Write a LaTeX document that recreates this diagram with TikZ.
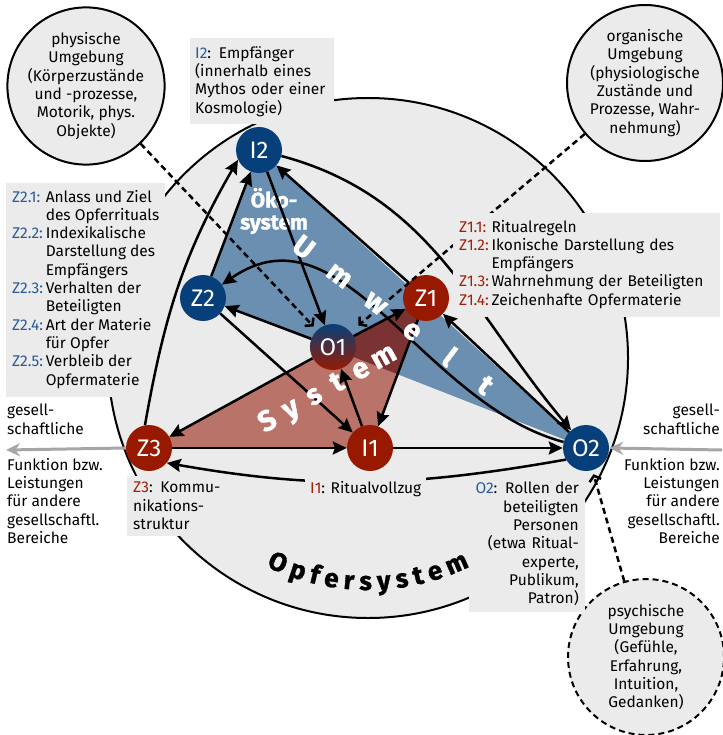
\documentclass[tikz,border=0pt]{standalone}
\usepackage{fontspec}
\setmainfont{Fira Sans}
\newfontfamily\heavyfont{Fira Sans Bold}[FakeBold=1.3]
\usetikzlibrary{arrows.meta, calc, decorations.text}

\definecolor{nodeblue}{HTML}{063F7A}
\definecolor{nodered}{HTML}{971A00}
\definecolor{labelblue}{HTML}{285A96}
\definecolor{labelred}{HTML}{A01E0A}
\definecolor{areablue}{HTML}{6A8FB0}
\definecolor{areared}{HTML}{BA7368}
\definecolor{overlapred}{HTML}{7A3232}
\definecolor{boxgray}{HTML}{EBEBEB}
\definecolor{arrowgray}{HTML}{A6A6A6}

\newcommand{\bodyfont}{\fontsize{15.5}{18.3}\selectfont}
\newcommand{\opferfont}{\heavyfont\fontsize{26}{26}\selectfont}
\newcommand{\blab}[1]{\textcolor{labelblue}{#1}}
\newcommand{\rlab}[1]{\textcolor{labelred}{#1}}

\pgfdeclarelayer{background}
\pgfdeclarelayer{foreground}
\pgfsetlayers{background,main,foreground}

\begin{document}
\begin{tikzpicture}[
    x=1pt, y=1pt,
    >={Stealth[length=14pt, width=13pt, inset=2pt]},
    elem/.style = {
        circle, minimum size=46pt, inner sep=0pt,
        text=white, font=\fontsize{24}{24}\selectfont
    },
    blueelem/.style = {elem, fill=nodeblue},
    redelem/.style = {elem, fill=nodered},
    umgebung/.style = {
        circle, draw, line width=2pt, fill=boxgray,
        align=center, inner sep=0pt, minimum size=156pt, font=\bodyfont
    },
    infobox/.style = {fill=boxgray, inner sep=6pt, font=\bodyfont},
    plain/.style = {font=\bodyfont, inner sep=0pt},
    flow/.style = {line width=2.5pt, ->},
    influence/.style = {
        line width=2.5pt, dash pattern=on 6pt off 4pt,
        -{Straight Barb[length=5pt, width=12pt]}
    },
    societal/.style = {line width=3pt, draw=arrowgray, -{Stealth[length=14pt, width=13pt]}},
    bigletter/.style = {
        text=white, font=\heavyfont\fontsize{29}{29}\selectfont,
        text height=0.72em, text depth=0pt, inner sep=0pt
    }
]
\useasboundingbox (0,0) rectangle (722,-735);

% --- Elements of the system ---
\node[blueelem] (I2) at (259,-150) {I2};
\node[blueelem] (Z2) at (203,-298) {Z2};
\node[redelem]  (Z1) at (426,-298) {Z1};
\node[elem, top color=nodeblue, bottom color=nodered] (O1) at (333,-347) {O1};
\node[redelem]  (Z3) at (149,-448) {Z3};
\node[redelem]  (I1) at (370,-448) {I1};
\node[blueelem] (O2) at (586,-448) {O2};

% --- Environments ---
\node[umgebung] (phys) at (86,-86)
    {physische\\Umgebung\\(Körperzustände\\und -prozesse,\\Motorik, phys.\\Objekte)};
\node[umgebung] (organ) at (645,-83)
    {organische\\Umgebung\\(physiologische\\Zustände und\\Prozesse, Wahr-\\nehmung)};
\node[umgebung, dash pattern=on 6pt off 4pt] (psych) at (646,-657)
    {psychische\\Umgebung\\(Gefühle,\\Erfahrung,\\Intuition,\\Gedanken)};

% --- Sacrifice system, info boxes and areas ---
\begin{pgfonlayer}{background}
\node[circle, draw, line width=2pt, fill=boxgray, minimum size=520pt] (opfer) at (368,-358) {};
\node[infobox, anchor=north west, align=left, text width=134pt, inner xsep=5pt, inner ysep=8pt] (I2info) at (190,-38)
    {\blab{I2}: Empfänger\\(innerhalb eines\\Mythos oder einer\\Kosmologie)};
\node[infobox, anchor=north west] (Z2info) at (6,-183) {%
    \begin{tabular}{@{}l@{\,}l@{}}
    \blab{Z2.1:} & Anlass und Ziel\\
                 & des Opferrituals\\
    \blab{Z2.2:} & Indexikalische\\
                 & Darstellung des\\
                 & Empfängers\\
    \blab{Z2.3:} & Verhalten der\\
                 & Beteiligten\\
    \blab{Z2.4:} & Art der Materie\\
                 & für Opfer\\
    \blab{Z2.5:} & Verbleib der\\
                 & Opfermaterie
    \end{tabular}};
\fill[areablue] (I2.center) -- (Z2.center) -- (O2.center) -- cycle;
\fill[areared] (Z3.center) -- (Z1.center) -- (I1.center) -- cycle;
\begin{scope}
    \clip (I2.center) -- (Z2.center) -- (O2.center) -- cycle;
    \fill[overlapred] (Z3.center) -- (Z1.center) -- (I1.center) -- cycle;
\end{scope}
\end{pgfonlayer}

\path[decorate, decoration={text along path, text align=fit to path,
    text={|\opferfont|Opfersystem}}]
    ($(opfer.center)+(244:232pt)$) arc[start angle=244, end angle=296, radius=232pt];

\node[text=white, align=center, font=\heavyfont\fontsize{21}{22}\selectfont] (oeko) at (274,-211) {Öko-\\system};

% --- Relations ---
\draw[flow] (Z2) -- (I2);
\draw[flow] (Z1) -- (I2);
\draw[flow] (I2) -- (O1);
\draw[flow] (I2) to[out=-15, in=130] (O2);
\draw[flow] (Z3.100) to[out=80, in=-120] (I2.205);
\draw[flow] (O2) -- (Z1);
\draw[flow] (O2) to[out=165, in=35] (Z2);
\draw[flow] (O1) -- (Z2);
\draw[flow] (Z2) -- (I1);
\draw[flow] (O1) -- (Z1);
\draw[flow] (Z1) -- (I1);
\draw[flow] (I1) -- (O1);
\draw[flow] (O1) -- (Z3);
\draw[flow] (Z3) -- (I1);
\draw[flow] (I1) -- (O2);
\draw[flow] (O2.210) to[out=190, in=-10] (Z3.-40);

\draw[influence, shorten >=5pt] (phys) -- (O1);
\draw[influence, shorten >=10pt] (organ) -- (O1);
\draw[influence, shorten >=4pt] (psych) -- (O2);

\coordinate (outL) at (6,-450);
\coordinate (inR) at (722,-450);
\draw[societal] (Z3.west) -- (outL);
\draw[societal] (inR) -- (O2.east);

% --- Umwelt / System lettering ---
\foreach \ch [count=\i from 0] in {U,m,w,e,l,t}
    \node[bigletter, rotate=-37] (uw\i) at ($(300,-252)!\i/5!(482,-390)$) {\ch};
\foreach \ch [count=\i from 0] in {S,y,s,t,e,m}
    \node[bigletter, rotate=29] (sy\i) at ($(270,-426)!\i/5!(386,-361)$) {\ch};

% --- Outside texts ---
\node[plain, anchor=north west, align=left] (gesL) at (7,-404) {gesell-\\schaftliche};
\node[plain, anchor=north west, align=left] (funkL) at (7,-458)
    {Funktion bzw.\\Leistungen\\für andere\\gesellschaftl.\\Bereiche};
\node[plain, anchor=north east, align=right] (gesR) at (720,-404) {gesell-\\schaftliche};
\node[plain, anchor=north east, align=right] (funkR) at (720,-458)
    {Funktion bzw.\\Leistungen\\für andere\\gesellschaftl.\\Bereiche};

\begin{pgfonlayer}{foreground}
\node[infobox, anchor=north west, text width=255pt] (Z1info) at (453,-213) {%
    \begin{tabular}{@{}l@{\,}l@{}}
    \rlab{Z1.1:} & Ritualregeln\\
    \rlab{Z1.2:} & Ikonische Darstellung des\\
                 & Empfängers\\
    \rlab{Z1.3:} & Wahrnehmung der Beteiligten\\
    \rlab{Z1.4:} & Zeichenhafte Opfermaterie
    \end{tabular}};
\node[infobox, anchor=north west, align=left, text width=98pt] (Z3info) at (127,-476)
    {\rlab{Z3}: Kommu-\\nikations-\\struktur};
\node[infobox, anchor=north west, inner sep=5pt] (I1info) at (305,-476) {\rlab{I1}: Ritualvollzug};
\node[infobox, anchor=north east, align=right, text width=104pt] (O2info) at (585,-476)
    {\blab{O2}: Rollen der\\beteiligten\\Personen\\(etwa Ritual-\\experte,\\Publikum,\\Patron)};
\end{pgfonlayer}

\end{tikzpicture}
\end{document}
